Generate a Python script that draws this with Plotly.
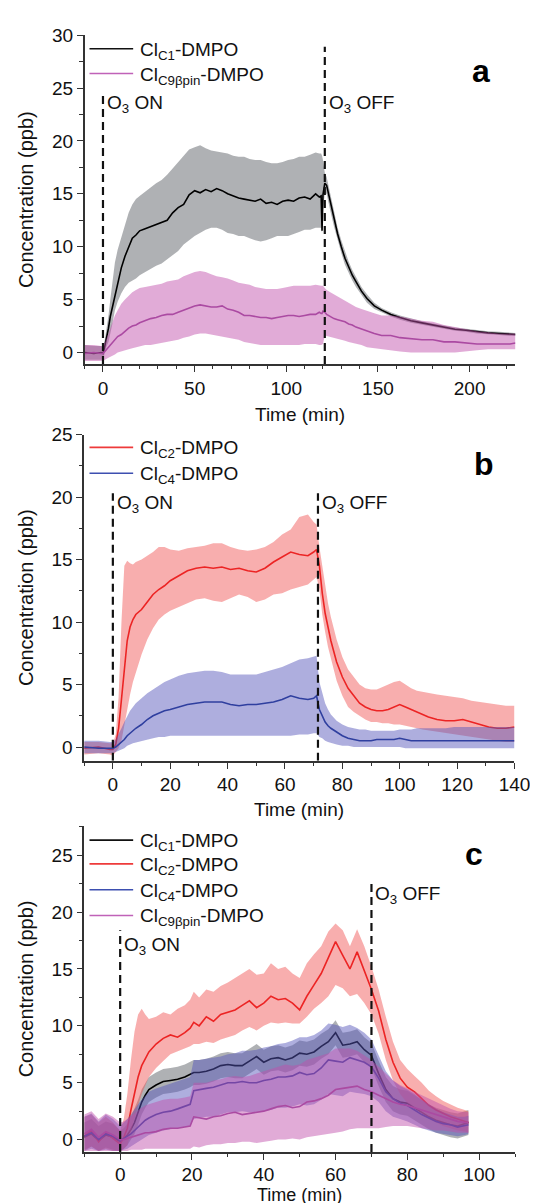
import plotly.graph_objects as go

# ---------------- Panel a data ----------------
t_a = [-10, -5, -1, 0, 1, 2, 3, 4, 5, 6.5,
       8, 10, 12, 14, 16, 18, 20, 23, 26, 29,
       32, 35, 38, 41, 44, 47, 50, 53, 56, 59,
       62, 65, 68, 71, 74, 77, 80, 83, 86, 89,
       92, 95, 98, 101, 104, 107, 110, 113, 116, 118,
       119, 119.5, 120, 121, 122, 124, 126, 128, 130, 132,
       134, 136, 138, 141, 144, 148, 152, 157, 162, 168,
       174, 180, 186, 192, 198, 204, 210, 216, 222, 225]
c1_a = [0.0, -0.1, 0.0, -0.1, 0.6, 1.4, 2.3, 3.4, 4.2, 5.3,
        6.6, 8.0, 9.1, 10.0, 10.8, 11.1, 11.5, 11.7, 11.9, 12.1,
        12.3, 12.5, 13.2, 13.7, 14.0, 14.9, 15.3, 15.1, 15.4, 15.2,
        15.5, 15.3, 15.0, 14.8, 14.6, 14.5, 14.4, 14.3, 14.5, 14.1,
        14.2, 14.0, 14.3, 14.4, 14.3, 14.6, 14.7, 14.5, 15.0, 14.7,
        14.8, 11.5, 14.9, 16.0, 15.8, 14.2, 12.6, 11.2, 10.0, 8.9,
        8.1, 7.3, 6.7, 5.8, 5.1, 4.4, 4.0, 3.6, 3.3, 3.0,
        2.8, 2.6, 2.4, 2.2, 2.1, 1.95, 1.85, 1.8, 1.7, 1.7]
c1_a_hi = [0.7, 0.6, 0.6, 0.5, 1.2, 2.2, 3.5, 5.0, 6.5, 8.5,
           9.7, 10.8, 12.0, 13.2, 14.0, 14.5, 14.8, 15.2, 15.6, 16.0,
           16.3, 16.8, 17.4, 18.0, 18.6, 19.2, 19.4, 19.6, 19.3, 19.1,
           19.0, 18.9, 18.8, 18.6, 18.5, 18.5, 18.3, 18.2, 18.2, 18.0,
           17.9, 17.9, 18.0, 18.2, 18.3, 18.5, 18.5, 18.7, 18.9, 18.8,
           18.8, 18.6, 18.2, 17.0, 16.6, 15.0, 13.3, 11.8, 10.6, 9.5,
           8.6, 7.8, 7.2, 6.2, 5.5, 4.7, 4.2, 3.8, 3.5, 3.2,
           2.95, 2.75, 2.55, 2.35, 2.25, 2.1, 2.0, 1.95, 1.85, 1.85]
c1_a_lo = [-0.7, -0.7, -0.7, -0.7, 0.0, 0.6, 1.0, 1.8, 2.6, 4.0,
           4.8, 5.6, 6.2, 6.6, 6.8, 7.0, 7.3, 7.6, 7.9, 8.2,
           8.4, 8.8, 9.2, 9.6, 10.2, 10.6, 11.0, 11.3, 11.6, 11.8,
           11.8, 11.6, 11.3, 11.2, 11.0, 11.0, 10.8, 10.6, 10.5, 10.6,
           10.8, 11.0, 11.0, 11.0, 11.2, 11.4, 11.6, 11.6, 11.8, 11.8,
           11.8, 11.3, 13.5, 15.0, 15.0, 13.4, 11.9, 10.6, 9.4, 8.3,
           7.6, 6.8, 6.2, 5.4, 4.7, 4.1, 3.8, 3.4, 3.1, 2.8,
           2.6, 2.45, 2.25, 2.05, 1.95, 1.8, 1.7, 1.65, 1.55, 1.55]
c9_a = [-0.1, 0.0, -0.1, -0.1, 0.1, 0.3, 0.6, 0.8, 1.0, 1.2,
        1.5, 1.7, 2.0, 2.3, 2.5, 2.6, 2.8, 3.0, 3.2, 3.3,
        3.5, 3.6, 3.6, 3.8, 4.0, 4.2, 4.4, 4.5, 4.4, 4.3,
        4.3, 4.4, 4.1, 4.0, 3.8, 3.5, 3.5, 3.4, 3.3, 3.3,
        3.2, 3.3, 3.4, 3.5, 3.5, 3.4, 3.5, 3.6, 3.6, 3.8,
        3.7, 3.7, 3.9, 3.8, 3.6, 3.4, 3.2, 3.1, 3.0, 2.9,
        2.7, 2.6, 2.4, 2.2, 2.0, 1.8, 1.6, 1.6, 1.4, 1.3,
        1.2, 1.2, 1.0, 1.0, 0.9, 0.8, 0.8, 0.8, 0.8, 0.9]
c9_a_hi = [0.7, 0.7, 0.6, 0.6, 0.9, 1.3, 1.8, 2.3, 2.8, 3.5,
           4.0, 4.6, 5.0, 5.4, 5.7, 5.9, 6.1, 6.2, 6.3, 6.4,
           6.5, 6.7, 6.8, 6.9, 7.2, 7.4, 7.6, 7.7, 7.6, 7.4,
           7.2, 7.1, 7.0, 6.8, 6.6, 6.5, 6.4, 6.2, 6.1, 6.0,
           6.0, 6.0, 6.1, 6.2, 6.3, 6.3, 6.3, 6.3, 6.4, 6.3,
           6.3, 6.3, 6.3, 6.1, 5.9, 5.7, 5.5, 5.3, 5.1, 4.9,
           4.7, 4.5, 4.3, 4.1, 3.9, 3.7, 3.5, 3.5, 3.4, 3.2,
           3.0, 2.9, 2.6, 2.4, 2.2, 2.0, 1.9, 1.8, 1.8, 1.8]
c9_a_lo = [-0.8, -0.8, -0.8, -0.8, -0.7, -0.6, -0.5, -0.4, -0.3, -0.2,
           0.0, 0.1, 0.2, 0.3, 0.4, 0.5, 0.6, 0.7, 0.7, 0.8,
           0.9, 1.0, 1.1, 1.2, 1.4, 1.5, 1.7, 1.8, 1.8, 1.7,
           1.6, 1.5, 1.4, 1.3, 1.2, 1.0, 0.9, 0.8, 0.7, 0.7,
           0.7, 0.7, 0.7, 0.7, 0.7, 0.7, 0.8, 0.8, 0.8, 0.7,
           0.7, 0.7, 0.8, 1.6, 1.6, 1.5, 1.4, 1.3, 1.2, 1.1,
           1.0, 0.9, 0.8, 0.7, 0.5, 0.4, 0.3, 0.2, 0.1, 0.0,
           0.0, 0.0, 0.0, 0.0, 0.1, 0.2, 0.3, 0.3, 0.3, 0.3]

# ---------------- Panel b data ----------------
t_b = [-10, -5, -1, 0, 1, 2, 3, 4, 5, 6,
       7, 8, 10, 12, 14, 16, 18, 20, 23, 26,
       29, 32, 35, 38, 41, 44, 47, 50, 53, 56,
       59, 62, 65, 68, 70, 71, 72, 73, 74, 75,
       76, 78, 80, 82, 84, 86, 88, 90, 92, 94,
       96, 98, 100, 102, 104, 106, 108, 110, 113, 116,
       119, 122, 125, 128, 131, 134, 137, 140]
c2_b = [-0.1, 0.0, -0.2, -0.2, 0.2, 1.5, 3.8, 6.5, 8.5, 9.6,
        10.2, 10.6, 11.0, 11.6, 12.2, 12.6, 12.9, 13.3, 13.7, 14.1,
        14.3, 14.4, 14.3, 14.4, 14.2, 14.3, 14.1, 14.0, 14.3, 14.8,
        15.2, 15.6, 15.4, 15.3, 15.6, 15.8, 14.5, 12.3, 10.7, 9.6,
        8.5, 6.8, 5.6, 4.7, 4.1, 3.5, 3.2, 3.0, 2.9, 2.9,
        3.0, 3.2, 3.4, 3.2, 3.0, 2.8, 2.6, 2.4, 2.2, 2.1,
        2.1, 2.2, 2.0, 1.8, 1.6, 1.5, 1.5, 1.6]
c2_b_hi = [0.4, 0.4, 0.3, 0.3, 1.0, 4.0, 10.0, 14.5, 14.9, 14.7,
           14.6, 14.8, 15.0, 15.3, 15.6, 16.0, 16.0, 15.8, 15.7, 15.9,
           16.0, 16.1, 16.3, 16.3, 16.0, 15.8, 15.7, 15.8, 16.0, 16.4,
           17.0, 17.4, 18.4, 18.6, 18.0, 17.8, 16.0, 14.4, 12.8, 11.5,
           10.4, 8.6, 7.2, 6.2, 5.6, 5.0, 4.7, 4.6, 4.6, 4.8,
           5.0, 5.2, 5.3, 5.0, 4.7, 4.5, 4.4, 4.3, 4.2, 4.1,
           4.0, 3.9, 3.7, 3.6, 3.5, 3.4, 3.3, 3.3]
c2_b_lo = [-0.6, -0.5, -0.6, -0.7, -0.4, -0.1, 0.5, 1.8, 3.0, 4.2,
           5.2, 6.0, 7.4, 8.6, 9.5, 10.2, 10.6, 10.9, 11.2, 11.5,
           11.8, 11.9, 11.7, 11.6, 11.9, 12.2, 12.0, 11.6, 11.8, 12.2,
           12.3, 12.6, 12.8, 13.0, 13.4, 13.6, 12.6, 10.6, 9.2, 8.0,
           7.0, 5.3, 4.1, 3.2, 2.8, 2.5, 2.2, 2.0, 2.0, 1.9,
           1.9, 1.8, 1.8, 1.7, 1.6, 1.5, 1.4, 1.3, 1.2, 1.1,
           1.0, 0.9, 0.8, 0.7, 0.6, 0.5, 0.4, 0.4]
c4_b = [0.0, -0.1, -0.1, -0.1, 0.0, 0.2, 0.4, 0.6, 0.9, 1.1,
        1.3, 1.5, 1.8, 2.2, 2.5, 2.7, 2.9, 3.0, 3.2, 3.4,
        3.5, 3.6, 3.6, 3.6, 3.4, 3.3, 3.4, 3.4, 3.5, 3.6,
        3.8, 4.1, 3.9, 3.8, 3.9, 4.1, 3.0, 2.5, 2.0, 1.7,
        1.5, 1.2, 0.9, 0.7, 0.6, 0.5, 0.5, 0.5, 0.6, 0.6,
        0.6, 0.6, 0.7, 0.6, 0.5, 0.5, 0.5, 0.5, 0.5, 0.5,
        0.5, 0.5, 0.5, 0.5, 0.5, 0.5, 0.5, 0.5]
c4_b_hi = [0.5, 0.5, 0.4, 0.4, 0.6, 1.0, 1.5, 2.0, 2.5, 2.9,
           3.2, 3.5, 3.9, 4.3, 4.6, 4.9, 5.2, 5.4, 5.7, 5.9,
           6.0, 6.1, 6.1, 6.0, 5.8, 5.8, 5.8, 5.8, 6.0, 6.2,
           6.4, 6.7, 7.0, 7.1, 7.2, 7.3, 5.2, 4.3, 3.5, 3.0,
           2.6, 2.1, 1.8, 1.6, 1.5, 1.4, 1.4, 1.3, 1.3, 1.3,
           1.3, 1.3, 1.4, 1.4, 1.4, 1.5, 1.5, 1.5, 1.5, 1.5,
           1.6, 1.6, 1.6, 1.6, 1.6, 1.6, 1.6, 1.6]
c4_b_lo = [-0.5, -0.5, -0.5, -0.5, -0.4, -0.3, -0.2, -0.1, 0.1, 0.2,
           0.3, 0.4, 0.5, 0.6, 0.7, 0.8, 0.8, 0.9, 0.9, 0.9,
           0.9, 0.9, 0.9, 0.9, 0.9, 0.9, 0.9, 0.9, 0.9, 0.9,
           0.9, 0.9, 1.0, 1.0, 1.1, 1.1, 0.8, 0.7, 0.5, 0.4,
           0.3, 0.2, 0.1, 0.1, 0.0, 0.0, 0.0, 0.0, 0.0, 0.0,
           0.0, 0.0, 0.0, -0.1, -0.1, -0.1, -0.1, -0.1, -0.1, -0.1,
           -0.1, -0.1, -0.1, -0.1, -0.1, -0.1, -0.1, -0.1]

# ---------------- Panel c data ----------------
t_c = [-10, -8, -6, -4, -2, 0, 1, 2, 3, 4,
       5, 6, 7, 8, 10, 12, 14, 16, 18, 19.5,
       20.5, 22, 24, 26, 28, 30, 32, 34, 36, 38,
       40, 42, 44, 46, 48, 50, 52, 54, 56, 58,
       60, 62, 64, 66, 68, 70, 72, 74, 76, 78,
       80, 82, 84, 86, 88, 90, 92, 94, 96, 97]
c1_c = [0.2, 0.5, -0.1, 0.4, 0.2, -0.2, 0.1, 0.4, 0.9, 1.5,
        2.4, 3.3, 3.9, 4.4, 4.8, 5.1, 5.2, 5.3, 5.5, 5.7,
        5.9, 5.9, 6.0, 6.2, 6.5, 6.6, 6.5, 6.5, 6.9, 7.3,
        6.8, 7.1, 7.2, 7.0, 7.2, 7.6, 7.5, 7.7, 8.2, 8.6,
        9.4, 8.3, 8.4, 8.6, 7.9, 7.4, 5.8, 4.4, 3.6, 3.3,
        3.2, 2.8, 2.4, 2.0, 1.7, 1.5, 1.3, 1.2, 1.4, 1.5]
c1_c_hi = [1.5, 1.8, 1.2, 1.6, 1.4, 0.8, 1.0, 1.4, 2.0, 2.7,
           3.5, 4.4, 5.0, 5.5, 5.9, 6.2, 6.3, 6.4, 6.6, 6.8,
           7.0, 7.0, 7.1, 7.3, 7.6, 7.7, 7.6, 7.6, 8.0, 8.4,
           7.9, 8.2, 8.3, 8.1, 8.3, 8.7, 8.6, 8.8, 9.3, 9.7,
           10.5, 9.4, 9.5, 9.7, 9.0, 8.5, 6.9, 5.5, 4.7, 4.4,
           4.3, 3.9, 3.5, 3.1, 2.8, 2.6, 2.4, 2.3, 2.5, 2.6]
c1_c_lo = [-0.9, -0.6, -1.0, -0.7, -0.9, -1.0, -0.8, -0.5, 0.0, 0.5,
           1.3, 2.2, 2.8, 3.3, 3.7, 4.0, 4.1, 4.2, 4.4, 4.6,
           4.8, 4.8, 4.9, 5.1, 5.4, 5.5, 5.4, 5.4, 5.8, 6.2,
           5.7, 6.0, 6.1, 5.9, 6.1, 6.5, 6.4, 6.6, 7.1, 7.5,
           8.3, 7.2, 7.3, 7.5, 6.8, 6.3, 4.7, 3.3, 2.5, 2.2,
           2.1, 1.7, 1.3, 0.9, 0.6, 0.4, 0.2, 0.1, 0.3, 0.4]
c2_c = [0.3, 0.8, -0.2, 0.6, 0.1, -0.4, 0.2, 1.0, 2.6, 4.2,
        5.5, 6.5, 7.1, 7.7, 8.4, 8.9, 9.2, 9.0, 9.4, 9.8,
        10.3, 10.0, 10.8, 10.4, 11.0, 11.2, 11.4, 11.8, 12.2, 11.6,
        12.0, 12.6, 12.3, 12.4, 12.0, 11.4, 12.6, 13.6, 14.6, 16.0,
        17.4, 16.2, 15.0, 16.5, 14.8, 13.2, 11.3, 8.8, 6.8, 5.4,
        4.6, 4.2, 3.6, 3.0, 2.6, 2.3, 2.0, 1.8, 1.6, 1.5]
c2_c_hi = [2.0, 2.2, 1.5, 2.0, 1.5, 0.8, 1.8, 4.0, 7.0, 9.5,
           11.0, 11.5, 11.0, 10.6, 10.8, 11.2, 11.0, 11.5, 11.8, 12.3,
           13.0, 12.5, 13.2, 13.0, 13.5, 13.8, 14.2, 14.6, 15.0, 14.5,
           14.6, 15.5, 15.0, 15.2, 14.6, 14.2, 15.5, 16.3, 17.0, 18.3,
           19.0, 18.4, 17.0, 18.5, 17.0, 15.2, 13.2, 10.8, 8.6, 7.0,
           6.2, 5.6, 5.0, 4.3, 3.8, 3.4, 3.1, 2.8, 2.6, 2.5]
c2_c_lo = [-1.0, -0.6, -1.0, -0.8, -1.0, -1.0, -0.8, -0.5, 0.5, 1.8,
           3.0, 4.0, 4.8, 5.5, 6.3, 6.9, 7.5, 7.8, 8.0, 8.2,
           8.4, 8.4, 8.6, 8.5, 8.8, 9.0, 9.2, 9.6, 9.9, 9.6,
           10.0, 10.3, 10.2, 10.3, 10.2, 10.2, 10.8, 11.5, 12.0, 12.6,
           13.6, 13.3, 12.6, 12.8, 12.0, 11.0, 9.3, 7.0, 5.2, 4.0,
           3.2, 2.8, 2.3, 1.8, 1.5, 1.2, 1.0, 0.8, 0.7, 0.6]
c4_c = [0.3, 0.6, 0.0, 0.5, 0.3, -0.1, 0.1, 0.3, 0.5, 0.8,
        1.1, 1.4, 1.7, 1.9, 2.2, 2.4, 2.5, 2.7, 2.9, 3.1,
        4.3, 4.4, 4.5, 4.6, 4.8, 5.0, 5.0, 5.1, 5.0, 5.0,
        5.2, 5.3, 5.5, 5.5, 5.6, 5.9, 5.7, 5.8, 6.3, 7.0,
        6.9, 6.8, 7.2, 7.0, 6.8, 6.4, 5.4, 4.2, 3.6, 3.2,
        3.0, 2.6, 2.2, 1.9, 1.6, 1.4, 1.3, 1.1, 1.2, 1.3]
c4_c_hi = [2.0, 2.3, 1.6, 2.2, 1.8, 1.2, 1.5, 1.8, 2.2, 2.7,
           3.1, 3.5, 3.9, 4.2, 4.5, 4.7, 4.9, 5.1, 5.3, 5.5,
           7.0, 7.0, 7.1, 7.2, 7.3, 7.5, 7.6, 7.8, 7.8, 7.9,
           8.1, 8.2, 8.4, 8.5, 8.7, 9.0, 9.0, 9.2, 9.6, 10.2,
           10.1, 9.9, 10.1, 9.8, 9.4, 8.8, 7.4, 6.0, 5.2, 4.7,
           4.4, 4.0, 3.5, 3.1, 2.7, 2.4, 2.2, 2.0, 2.0, 2.1]
c4_c_lo = [-1.0, -0.8, -1.0, -0.9, -1.0, -1.0, -0.9, -0.8, -0.6, -0.4,
           -0.2, 0.0, 0.2, 0.4, 0.6, 0.8, 0.9, 1.0, 1.1, 1.2,
           1.8, 1.9, 2.0, 2.0, 2.2, 2.4, 2.4, 2.5, 2.4, 2.4,
           2.5, 2.6, 2.8, 2.8, 2.9, 3.1, 3.0, 3.1, 3.5, 4.0,
           3.9, 3.8, 4.2, 4.1, 4.0, 3.8, 3.3, 2.5, 2.0, 1.8,
           1.6, 1.3, 1.0, 0.8, 0.6, 0.5, 0.4, 0.3, 0.4, 0.5]
c9_c = [0.5, 0.9, 0.2, 0.7, 0.4, 0.0, 0.0, 0.1, 0.2, 0.3,
        0.4, 0.5, 0.6, 0.6, 0.7, 0.9, 1.0, 1.0, 1.1, 1.2,
        2.0, 1.9, 1.8, 2.0, 2.1, 2.3, 2.4, 2.2, 2.3, 2.4,
        2.5, 2.7, 2.9, 3.0, 2.8, 2.9, 3.3, 3.4, 3.6, 3.9,
        4.4, 4.5, 4.6, 4.7, 4.4, 4.2, 3.9, 3.6, 3.3, 3.1,
        3.0, 2.8, 2.6, 2.4, 2.2, 2.0, 1.8, 1.6, 1.5, 1.5]
c9_c_hi = [2.2, 2.5, 1.8, 2.3, 2.0, 1.5, 1.6, 1.8, 2.0, 2.3,
           2.6, 2.8, 3.0, 3.1, 3.3, 3.5, 3.6, 3.6, 3.7, 3.8,
           5.0, 5.0, 5.0, 5.2, 5.3, 5.5, 5.6, 5.5, 5.6, 5.8,
           6.0, 6.2, 6.4, 6.6, 6.5, 6.6, 7.0, 7.2, 7.4, 7.6,
           8.0, 8.0, 8.0, 7.8, 7.4, 7.0, 6.4, 5.8, 5.2, 4.8,
           4.5, 4.2, 3.9, 3.6, 3.3, 3.0, 2.7, 2.5, 2.4, 2.4]
c9_c_lo = [-1.0, -1.0, -1.0, -1.0, -1.0, -1.0, -1.0, -1.0, -0.9, -0.9,
           -0.9, -0.9, -0.8, -0.8, -0.8, -0.8, -0.8, -0.8, -0.8, -0.8,
           -0.6, -0.7, -0.5, -0.4, -0.4, -0.3, -0.3, -0.2, -0.2, -0.3,
           -0.2, -0.1, 0.0, 0.0, 0.1, 0.0, 0.2, 0.3, 0.4, 0.5,
           0.6, 0.7, 0.9, 1.0, 1.0, 1.0, 1.0, 1.1, 1.2, 1.2,
           1.2, 1.1, 1.0, 0.9, 0.8, 0.8, 0.7, 0.6, 0.6, 0.6]

# Event times (O3 on / off) per panel
o3_on = [0, 0, 0]
o3_off = [121, 71.5, 70]
on_top = [24.5, 20.3, 18.4]
off_top = [28.9, 20.3, 22.6]
label_y_on = [23.7, 19.6, 17.2]
label_y_off = [23.7, 19.6, 21.7]

# legend entries per panel (series keys)
legend_a = ["C1", "C9"]
legend_b = ["C2", "C4"]
legend_c = ["C1", "C2", "C4", "C9"]

# ---------------- styling ----------------
FONT = "Liberation Sans, Arial, sans-serif"
LINE = {"C1": "#000000", "C2": "#ec2424", "C4": "#2f3f9f", "C9": "#ab4aa2"}
LEGLINE = {"C1": "#111111", "C2": "#ee3a3a", "C4": "#3d4fb0", "C9": "#c062b8"}
BAND = {"C1": "rgba(95,100,105,0.50)", "C2": "rgba(240,85,85,0.48)",
        "C4": "rgba(85,85,185,0.48)", "C9": "rgba(192,80,172,0.48)"}
NAMES = {"C1": "Cl<sub>C1</sub>-DMPO", "C2": "Cl<sub>C2</sub>-DMPO",
         "C4": "Cl<sub>C4</sub>-DMPO", "C9": "Cl<sub>C9βpin</sub>-DMPO"}

fig = go.Figure()


def add_series(t, mean, hi, lo, key, xa, ya):
    fig.add_trace(go.Scatter(x=t + t[::-1], y=hi + lo[::-1], fill="toself",
                             fillcolor=BAND[key], line=dict(width=0),
                             mode="lines", hoverinfo="skip", showlegend=False,
                             xaxis=xa, yaxis=ya))
    fig.add_trace(go.Scatter(x=t, y=mean, mode="lines", name=NAMES[key],
                             line=dict(color=LINE[key], width=1.6),
                             xaxis=xa, yaxis=ya, showlegend=False))


# panel a
add_series(t_a, c1_a, c1_a_hi, c1_a_lo, "C1", "x", "y")
add_series(t_a, c9_a, c9_a_hi, c9_a_lo, "C9", "x", "y")
# panel b
add_series(t_b, c2_b, c2_b_hi, c2_b_lo, "C2", "x2", "y2")
add_series(t_b, c4_b, c4_b_hi, c4_b_lo, "C4", "x2", "y2")
# panel c
add_series(t_c, c1_c, c1_c_hi, c1_c_lo, "C1", "x3", "y3")
add_series(t_c, c2_c, c2_c_hi, c2_c_lo, "C2", "x3", "y3")
add_series(t_c, c4_c, c4_c_hi, c4_c_lo, "C4", "x3", "y3")
add_series(t_c, c9_c, c9_c_hi, c9_c_lo, "C9", "x3", "y3")

W, H = 538, 1203
def px_x(a, b):
    return [a / W, b / W]
def px_y(top, bottom):
    return [(H - bottom) / H, (H - top) / H]

axis_common = dict(showline=True, linecolor="#333333", linewidth=1.5,
                   ticks="outside", ticklen=6, tickwidth=1.3, tickcolor="#333333",
                   showgrid=False, zeroline=False, mirror=False,
                   tickfont=dict(family=FONT, size=19, color="#111111"))

xranges = [[-10, 225], [-10, 140], [-10, 110]]
yranges = [[-1.1, 30], [-1.1, 25], [-1.1, 27.6]]
xdt = [50, 20, 20]
xminor = [10, 10, 10]
xdomains = [px_x(79, 523), px_x(78.5, 522), px_x(78.6, 522.6)]
ydomains = [px_y(17.3, 349), px_y(420, 749), px_y(814.4, 1143.6)]
x_label_standoff = [0, 0, -2]

layout = dict(width=W, height=H, margin=dict(l=0, r=0, t=0, b=0),
              paper_bgcolor="white", plot_bgcolor="white", showlegend=False,
              font=dict(family=FONT, size=19, color="#111111"))
for i in range(3):
    sx = "" if i == 0 else str(i + 1)
    layout["xaxis" + sx] = dict(axis_common, domain=xdomains[i], range=xranges[i],
                                anchor="y" + sx, tick0=0, dtick=xdt[i],
                                ticklabelstandoff=x_label_standoff[i],
                                minor=dict(ticks="outside", ticklen=3.5, tickwidth=1.2,
                                           tickcolor="#333333", dtick=xminor[i], tick0=0))
    layout["yaxis" + sx] = dict(axis_common, domain=ydomains[i], range=yranges[i],
                                anchor="x" + sx, tick0=0, dtick=5,
                                minor=dict(ticks="outside", ticklen=3.5, tickwidth=1.2,
                                           tickcolor="#333333", dtick=2.5, tick0=0))
fig.update_layout(**layout)

shapes = []
annots = []

# hand-built legends (line sample + label) in paper coordinates
legend_rows = [(legend_a, [31, 56]), (legend_b, [433, 459]),
               (legend_c, [829, 853, 879, 905])]
for keys, rows in legend_rows:
    for key, ry in zip(keys, rows):
        yp = 1 - ry / H
        shapes.append(dict(type="line", xref="paper", yref="paper",
                           x0=84 / W, x1=129 / W, y0=yp, y1=yp,
                           line=dict(color=LEGLINE[key], width=1.6)))
        annots.append(dict(xref="paper", yref="paper", x=134 / W, y=yp,
                           text=NAMES[key], showarrow=False, xanchor="left",
                           yanchor="middle", yshift=-2,
                           font=dict(size=19, family=FONT, color="#111111")))

# dashed event lines and labels
for i in range(3):
    sx = "" if i == 0 else str(i + 1)
    for tx, top in ((o3_on[i], on_top[i]), (o3_off[i], off_top[i])):
        shapes.append(dict(type="line", xref="x" + sx, yref="y" + sx,
                           x0=tx, x1=tx, y0=yranges[i][0], y1=top,
                           line=dict(color="#111111", width=2.2, dash="8px,5px")))
    annots.append(dict(xref="x" + sx, yref="y" + sx, x=o3_on[i], y=label_y_on[i],
                       text="O<sub>3</sub> ON", showarrow=False, xanchor="left",
                       yanchor="middle", xshift=2, yshift=-2, font=dict(size=19, family=FONT)))
    annots.append(dict(xref="x" + sx, yref="y" + sx, x=o3_off[i], y=label_y_off[i],
                       text="O<sub>3</sub> OFF", showarrow=False, xanchor="left",
                       yanchor="middle", xshift=2, yshift=-2, font=dict(size=19, family=FONT)))

# axis titles as paper annotations
title_x_y = [400, 798, 1187]
title_size = [19, 19, 18]
for i in range(3):
    cx = (xdomains[i][0] + xdomains[i][1]) / 2
    annots.append(dict(xref="paper", yref="paper", x=cx, y=1 - title_x_y[i] / H,
                       text="Time (min)", showarrow=False, xanchor="center",
                       yanchor="middle", borderpad=0,
                       font=dict(size=title_size[i], family=FONT)))
    cy = (ydomains[i][0] + ydomains[i][1]) / 2
    annots.append(dict(xref="paper", yref="paper", x=18 / W, y=cy,
                       text="Concentration (ppb)", showarrow=False, textangle=-90,
                       xanchor="center", yanchor="middle", font=dict(size=20, family=FONT)))

# panel letters
letters = [("a", 487, 53), ("b", 491, 450), ("c", 480, 843)]
for txt, lx, ly in letters:
    annots.append(dict(xref="paper", yref="paper", x=lx / W, y=1 - ly / H,
                       text="<b>" + txt + "</b>", showarrow=False, xanchor="center",
                       yanchor="middle", font=dict(size=32, family=FONT, color="#000000")))

fig.update_layout(shapes=shapes, annotations=annots)
fig.write_html("out.html")
